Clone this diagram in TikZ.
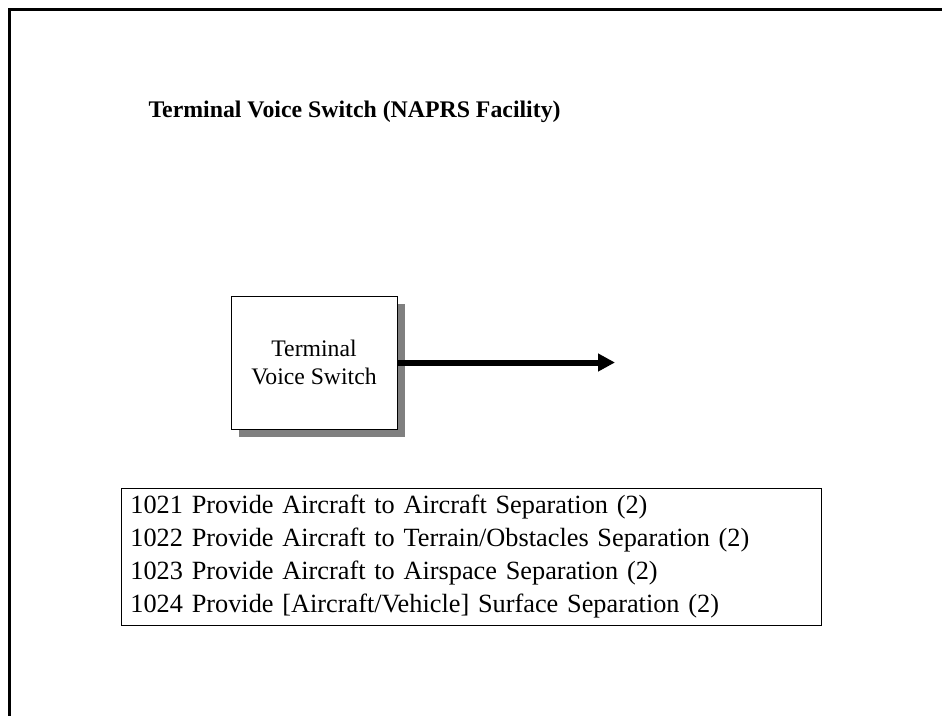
\documentclass[tikz,border=0pt]{standalone}
\usepackage{fontspec}
\setmainfont{Liberation Serif}
\usetikzlibrary{arrows.meta, positioning, shadows}

\begin{document}
\begin{tikzpicture}[x=1pt, y=-1pt,
    frame/.style={line width=3pt},
    block/.style={draw, line width=0.8pt, fill=white, minimum width=166pt, minimum height=133pt,
        align=center, font=\fontsize{23.7}{27.3}\selectfont,
        drop shadow={shadow xshift=8pt, shadow yshift=-8pt, fill=black!50, opacity=1}},
    flow/.style={line width=6pt, -{Triangle[length=17pt, width=17pt]}},
    listbox/.style={draw, line width=0.8pt, anchor=north west, text width=682pt, inner xsep=9pt,
        minimum height=137pt, align=left, font=\fontsize{26.3}{33}\selectfont}]
    \useasboundingbox (0,0) rectangle (942,715);
    \draw[frame] (9.5,720) |- (950,9.5);
    \node[anchor=base west, font=\fontsize{23.8}{27}\selectfont\bfseries] (title) at (145,117)
        {Terminal Voice Switch (NAPRS Facility)};
    \node[block] (tvs) at (314,362.5) {Terminal\\Voice Switch};
    \coordinate (out) at (615,363);
    \draw[flow] (tvs.east) -- (tvs.east -| out);
    \node[listbox] (funcs) at (121,488)
        {1021 Provide Aircraft to Aircraft Separation (2)\\
         1022 Provide Aircraft to Terrain/Obstacles Separation (2)\\
         1023 Provide Aircraft to Airspace Separation (2)\\
         1024 Provide [Aircraft/Vehicle] Surface Separation (2)};
\end{tikzpicture}
\end{document}
